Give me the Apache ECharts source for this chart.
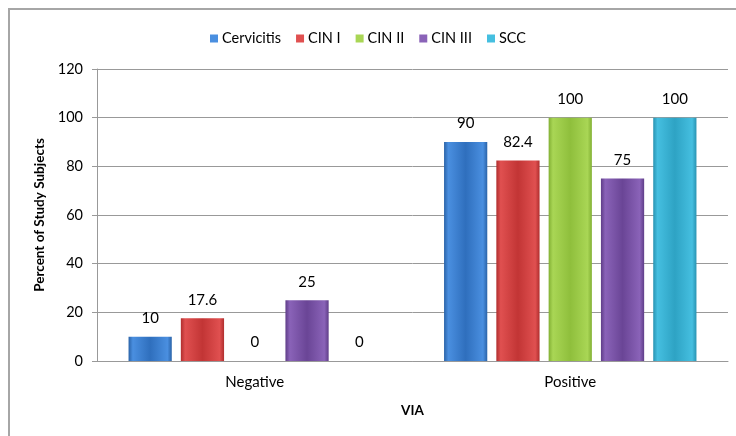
<!DOCTYPE html>
<html>
<head>
<meta charset="utf-8">
<script src="https://cdn.jsdelivr.net/npm/echarts@6/dist/echarts.min.js"></script>
<style>
  html, body { margin: 0; padding: 0; background: #fff; }
  #frame { position: absolute; left: 8px; top: 8px; width: 740px; height: 440px;
           border-left: 2px solid #a6a6a6; border-top: 2px solid #a6a6a6; box-sizing: border-box; }
  #chart { position: absolute; left: 0; top: 0; width: 736px; height: 436px; }
</style>
</head>
<body>
<div id="frame"></div>
<div id="chart"></div>
<script>
const categories = ['Negative', 'Positive'];
const seriesNames = ['Cervicitis', 'CIN I', 'CIN II', 'CIN III', 'SCC'];
const cervicitis = [10, 90];
const cin1 = [17.6, 82.4];
const cin2 = [0, 100];
const cin3 = [25, 75];
const scc = [0, 100];
const yTicks = [0, 20, 40, 60, 80, 100, 120];

const seriesValues = [cervicitis, cin1, cin2, cin3, scc];
const palette = [
  ['#2f6fbd', '#4a8fe0', '#2a63a8'],
  ['#c23535', '#e05050', '#b02e2e'],
  ['#8fbf3c', '#a9d655', '#82b034'],
  ['#6a4596', '#8a63b8', '#5f3d88'],
  ['#2ea3c4', '#45bfe0', '#2893b2']
];

function bevel(c) {
  return {
    type: 'linear', x: 0, y: 0, x2: 1, y2: 0,
    colorStops: [
      { offset: 0, color: c[2] },
      { offset: 0.1, color: c[1] },
      { offset: 0.5, color: c[0] },
      { offset: 0.9, color: c[1] },
      { offset: 1, color: c[2] }
    ]
  };
}

const font = 'Lato, "Open Sans", sans-serif';
const chart = echarts.init(document.getElementById('chart'));
chart.setOption({
  animation: false,
  textStyle: { fontFamily: font },
  legend: {
    top: 26,
    left: 'center',
    itemWidth: 8,
    itemHeight: 8,
    itemGap: 15,
    icon: 'rect',
    textStyle: { fontSize: 14.5, color: '#000', fontFamily: font, padding: [0, 0, 0, -1] },
    data: seriesNames.map((n, i) => ({ name: n, itemStyle: { color: palette[i][1] } }))
  },
  grid: { left: 97, right: 8, top: 69, bottom: 75 },
  xAxis: {
    type: 'category',
    data: categories,
    name: 'VIA',
    nameLocation: 'middle',
    nameGap: 43,
    nameTextStyle: { fontWeight: 'bold', fontSize: 13.5, color: '#000' },
    axisLine: { lineStyle: { color: '#999', width: 1 } },
    axisTick: { show: false },
    axisLabel: { fontSize: 15, color: '#000', margin: 14 }
  },
  yAxis: {
    type: 'value',
    min: 0,
    max: yTicks[yTicks.length - 1],
    interval: 20,
    name: 'Percent of Study Subjects',
    nameLocation: 'middle',
    nameGap: 48,
    nameTextStyle: { fontWeight: 'bold', fontSize: 13.5, color: '#000' },
    axisLine: { show: true, lineStyle: { color: '#999' } },
    axisTick: { show: true, length: 5, lineStyle: { color: '#999' } },
    axisLabel: { fontSize: 14.5, color: '#000', margin: 14 },
    splitLine: { lineStyle: { color: '#999', width: 1 } }
  },
  series: seriesNames.map((name, i) => ({
    name: name,
    type: 'bar',
    data: seriesValues[i],
    barCategoryGap: '20%',
    barGap: '21%',
    itemStyle: { color: bevel(palette[i]), borderWidth: 0 },
    label: {
      show: true,
      position: 'top',
      distance: 11,
      fontSize: 15,
      color: '#000',
      fontFamily: font
    }
  }))
});
</script>
</body>
</html>
